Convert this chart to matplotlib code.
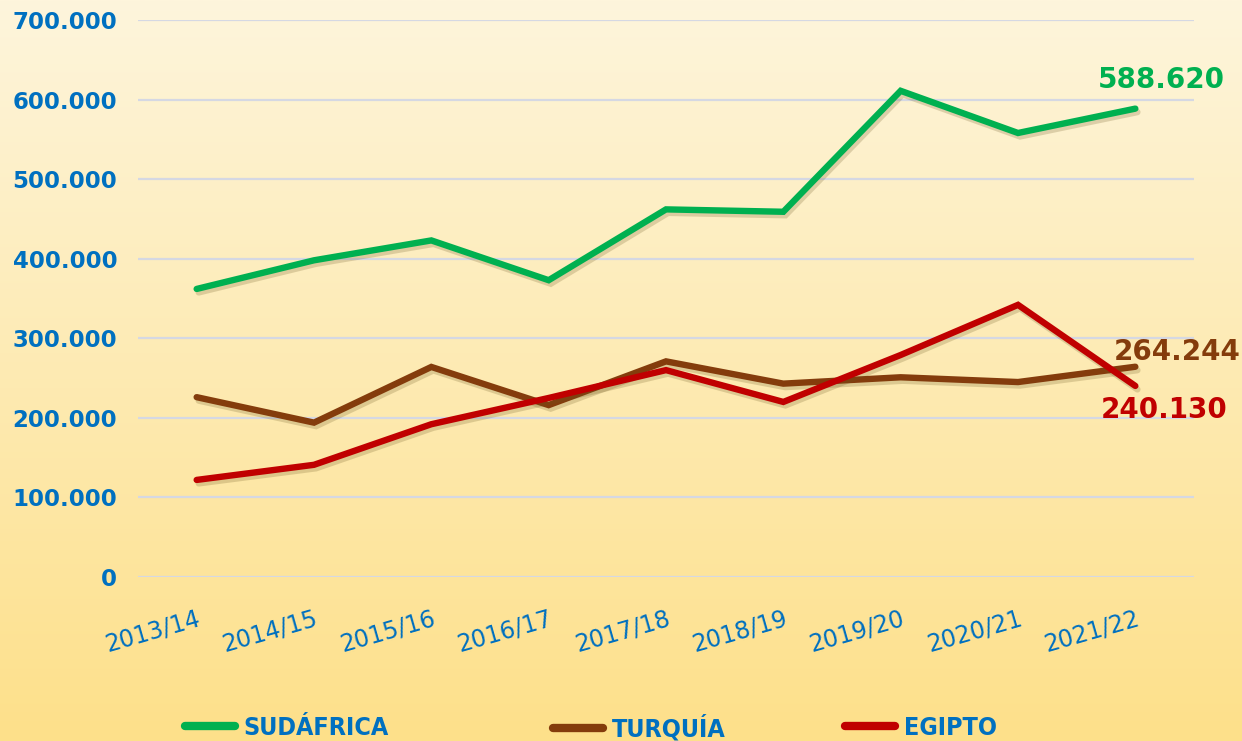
import numpy as np
import matplotlib
matplotlib.use("Agg")
import matplotlib.pyplot as plt
import matplotlib.patheffects as pe
from matplotlib.lines import Line2D
from matplotlib.colors import LinearSegmentedColormap

# campaign labels and exported tonnes per country
campaigns = ["2013/14", "2014/15", "2015/16", "2016/17", "2017/18",
             "2018/19", "2019/20", "2020/21", "2021/22"]
sudafrica = [362000, 398000, 423000, 373000, 462000, 459000, 611000, 558000, 588620]
turquia = [226000, 194000, 264000, 216000, 271000, 243000, 251000, 245000, 264244]
egipto = [122000, 141000, 192000, 225000, 260000, 220000, 279000, 342000, 240130]

series = [("SUDÁFRICA", sudafrica, "#00B050"),
          ("TURQUÍA", turquia, "#843C0C"),
          ("EGIPTO", egipto, "#C00000")]

blue = "#0070C0"

fig = plt.figure(figsize=(12.42, 7.41), dpi=100)

# background gradient over whole figure
bg = fig.add_axes([0, 0, 1, 1], zorder=-10)
cmap = LinearSegmentedColormap.from_list("bg", ["#FEF5DC", "#FDE08A"])
grad = np.linspace(0, 1, 256).reshape(-1, 1)
bg.imshow(grad, aspect="auto", cmap=cmap, extent=[0, 1, 0, 1], origin="upper")
bg.axis("off")

ax = fig.add_axes([138 / 1242, 164 / 741, (1194 - 138) / 1242, (721 - 164) / 741])
ax.patch.set_alpha(0)

x = np.arange(len(campaigns))
shadow = [pe.SimpleLineShadow(offset=(1.5, -2.5), shadow_color="#6b5520", alpha=0.22),
          pe.Normal()]
for name, vals, col in series:
    ax.plot(x, vals, color=col, lw=4.6, solid_capstyle="round",
            solid_joinstyle="miter", label=name, path_effects=shadow, zorder=3)

ax.set_xlim(-0.5, len(campaigns) - 0.5)
ax.set_ylim(0, 700000)
yt = np.arange(0, 700001, 100000)
ax.set_yticks(yt)
ax.set_yticklabels([f"{int(v):,}".replace(",", ".") for v in yt],
                   color=blue, fontsize=16.5, fontweight="bold")
ax.tick_params(axis="y", length=0, pad=15)
ax.set_xticks(x)
ax.set_xticklabels(campaigns, rotation=16, ha="right", rotation_mode="anchor",
                   color=blue, fontsize=17)
ax.tick_params(axis="x", length=0, pad=21)
ax.grid(axis="y", color="#D5D8E3", lw=1.6, zorder=0)
for s in ax.spines.values():
    s.set_visible(False)

# end labels
last = len(campaigns) - 1
ax.annotate("588.620", (last, sudafrica[-1]), xytext=(26, 29), textcoords="offset pixels",
            ha="center", va="center", color="#00B050", fontsize=20, fontweight="bold")
ax.annotate("264.244", (last, turquia[-1]), xytext=(42, 15), textcoords="offset pixels",
            ha="center", va="center", color="#843C0C", fontsize=20, fontweight="bold")
ax.annotate("240.130", (last, egipto[-1]), xytext=(29, -24), textcoords="offset pixels",
            ha="center", va="center", color="#C00000", fontsize=20, fontweight="bold")

# legend entries placed separately, like the original
leg_x = [185, 553, 845]
for (name, vals, col), lx in zip(series, leg_x):
    h = Line2D([], [], color=col, lw=6, solid_capstyle="round")
    leg = fig.legend([h], [name], loc="center left",
                     bbox_to_anchor=(lx / 1242, 13 / 741), frameon=False,
                     borderpad=0, borderaxespad=0, handlelength=2.0, handletextpad=0.35,
                     prop={"size": 18, "weight": "bold", "stretch": "condensed"})
    for t in leg.get_texts():
        t.set_color(blue)

fig.savefig("out.png", dpi=100)
